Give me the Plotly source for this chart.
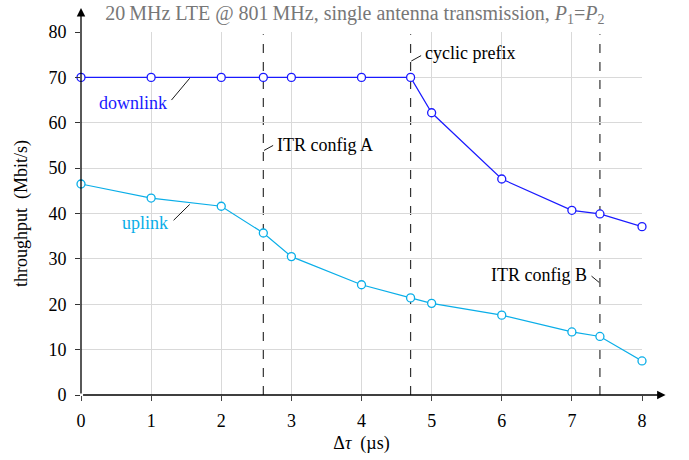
import plotly.graph_objects as go

x_vals = [0, 1, 2, 2.6, 3, 4, 4.7, 5, 6, 7, 7.4, 8]
downlink = [70.0, 70.0, 70.0, 70.0, 70.0, 70.0, 70.0, 62.2, 47.6, 40.7, 39.9, 37.1]
uplink = [46.5, 43.4, 41.6, 35.7, 30.5, 24.3, 21.4, 20.2, 17.6, 13.9, 12.9, 7.5]
vlines = [2.6, 4.7, 7.4]
x_ticks = [0, 1, 2, 3, 4, 5, 6, 7, 8]
y_ticks = [0, 10, 20, 30, 40, 50, 60, 70, 80]

BLUE = "#1a1aff"
CYAN = "#0aaee8"
FONT = "Liberation Serif"

fig = go.Figure()
fig.add_trace(go.Scatter(x=x_vals, y=downlink, mode="lines+markers",
                         line=dict(color=BLUE, width=1.2),
                         marker=dict(symbol="circle", size=8, color="white",
                                     line=dict(color=BLUE, width=1.3)),
                         name="downlink", cliponaxis=False))
fig.add_trace(go.Scatter(x=x_vals, y=uplink, mode="lines+markers",
                         line=dict(color=CYAN, width=1.2),
                         marker=dict(symbol="circle", size=8, color="white",
                                     line=dict(color=CYAN, width=1.3)),
                         name="uplink", cliponaxis=False))

for v in vlines:
    fig.add_shape(type="line", xref="x", yref="y", x0=v, x1=v, y0=0, y1=79.5,
                  line=dict(color="#333333", width=1.2, dash="dash"), layer="below")

# axis arrows
fig.add_annotation(xref="paper", yref="paper", x=1.042, y=0, ax=-584, ay=0,
                   axref="pixel", ayref="pixel", text="", showarrow=True,
                   arrowhead=2, arrowsize=1.3, arrowwidth=1.3, arrowcolor="black")
fig.add_annotation(xref="paper", yref="paper", x=0, y=1.066, ax=0, ay=387,
                   text="", showarrow=True,
                   arrowhead=2, arrowsize=1.3, arrowwidth=1.3, arrowcolor="black")

# labels with leader lines
def label(text, x, y, color, xanchor):
    fig.add_annotation(xref="x", yref="y", x=x, y=y, text=text, showarrow=False,
                       xanchor=xanchor, yanchor="middle",
                       font=dict(family=FONT, size=18, color=color))

def leader(x0, y0, x1, y1):
    fig.add_shape(type="line", xref="x", yref="y", x0=x0, y0=y0, x1=x1, y1=y1,
                  line=dict(color="black", width=0.9))

label("downlink", 1.25, 64.4, BLUE, "right")
leader(1.29, 65.0, 1.55, 69.8)
label("uplink", 1.27, 37.8, CYAN, "right")
leader(1.32, 38.5, 1.55, 42.0)
label("cyclic prefix", 4.88, 75.3, "black", "left")
leader(4.71, 73.6, 4.85, 74.8)
label("ITR config A", 2.77, 55.2, "black", "left")
leader(2.61, 53.9, 2.74, 55.0)
label("ITR config B", 7.25, 26.5, "black", "right")
leader(7.28, 26.2, 7.39, 24.8)

fig.update_layout(
    width=689, height=460,
    margin=dict(l=81, r=47, t=32, b=65),
    paper_bgcolor="white", plot_bgcolor="white",
    showlegend=False,
    font=dict(family=FONT, size=18, color="black"),
    title=dict(text="20\u2009MHz LTE @ 801\u2009MHz, single antenna transmission, <i>P</i><sub>1</sub>=<i>P</i><sub>2</sub>",
               x=0.515, xanchor="center", y=0.972, yanchor="middle",
               font=dict(family=FONT, size=20, color="#777777")),
    xaxis=dict(range=[0, 8], tickvals=x_ticks, ticks="outside", ticklen=5,
               tickcolor="#444444", showgrid=True, gridcolor="#d9d9d9", gridwidth=1,
               zeroline=False, showline=False, ticklabelstandoff=4,
               title=dict(text="\u0394<i>\u03c4</i>\u00a0 (\u00b5s)", standoff=6,
                          font=dict(family=FONT, size=18)),
               tickfont=dict(family=FONT, size=18)),
    yaxis=dict(range=[0, 80], tickvals=y_ticks, ticks="outside", ticklen=5,
               tickcolor="#333333", showgrid=True, gridcolor="#d9d9d9", gridwidth=1,
               zeroline=False, showline=False, ticklabelstandoff=5,
               title=dict(text="throughput\u00a0 (Mbit/s)", standoff=16,
                          font=dict(family=FONT, size=18)),
               tickfont=dict(family=FONT, size=18)),
)

fig.write_html("out.html")
